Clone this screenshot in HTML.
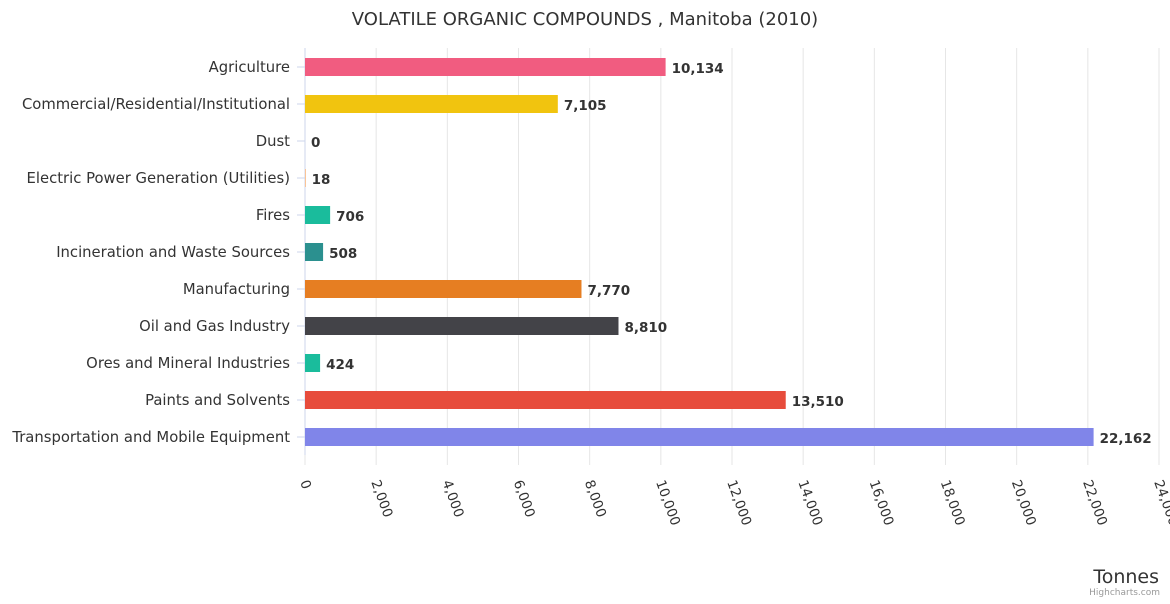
<!DOCTYPE html>
<html><head><meta charset="utf-8"><style>
body{margin:0;background:#fff;width:1170px;height:600px;overflow:hidden;font-family:"DejaVu Sans","Liberation Sans",sans-serif}
</style></head><body>
<svg id="chart" width="1170" height="600" xmlns="http://www.w3.org/2000/svg" font-family="DejaVu Sans, Liberation Sans, sans-serif">
<text x="585" y="25" text-anchor="middle" font-size="18" fill="#333">VOLATILE ORGANIC COMPOUNDS , Manitoba (2010)</text>
<g id="grid"></g><g id="bars"></g><g id="ylab"></g><g id="xlab"></g>
<text x="1159" y="583" text-anchor="end" font-size="19" fill="#333">Tonnes</text>
<text x="1160" y="595" text-anchor="end" font-size="9" fill="#999">Highcharts.com</text>
</svg>
<script>
const categories=["Agriculture","Commercial/Residential/Institutional","Dust","Electric Power Generation (Utilities)","Fires","Incineration and Waste Sources","Manufacturing","Oil and Gas Industry","Ores and Mineral Industries","Paints and Solvents","Transportation and Mobile Equipment"];
const values=[10134,7105,0,18,706,508,7770,8810,424,13510,22162];
const colors=["#f15c80","#f1c40f","#90ed7d","#f7a35c","#1abc9c","#2b908f","#e67e22","#434348","#1abc9c","#e74c3c","#8085e9"];
const ticks=[0,2000,4000,6000,8000,10000,12000,14000,16000,18000,20000,22000,24000];
const NS="http://www.w3.org/2000/svg";
const plotX0=305,plotX1=1159,plotTop=48,plotBottom=455,rowStep=37,barH=18;
const xs=v=>plotX0+(v/24000)*(plotX1-plotX0);
const yc=i=>67+i*rowStep;
function mk(t,a,p){const e=document.createElementNS(NS,t);for(const k in a)e.setAttribute(k,a[k]);p.appendChild(e);return e;}
const fmt=v=>v.toLocaleString("en-US");
const G=document.getElementById("grid"),B=document.getElementById("bars"),Y=document.getElementById("ylab"),X=document.getElementById("xlab");
ticks.forEach(t=>{
 const l=mk("line",{x1:xs(t),x2:xs(t),y1:plotTop,y2:plotBottom+10,stroke:"#e6e6e6"},G);
 
 
 const tx=mk("text",{x:0,y:0,"font-size":13.5,fill:"#333",transform:`translate(${xs(t)-5},${plotBottom+27}) rotate(70)`},X);
 tx.textContent=fmt(t);
 
 
});
const ax=mk("line",{x1:plotX0,x2:plotX0,y1:plotTop,y2:plotBottom,stroke:"#ccd6eb"},G);


categories.forEach((c,i)=>{
 const y=yc(i);
 const tk=mk("line",{x1:plotX0-8,x2:plotX0,y1:y,y2:y,stroke:"#ccd6eb"},G);
 
 
 const lb=mk("text",{x:290,y:y+5,"text-anchor":"end","font-size":14.8,fill:"#333"},Y);
 lb.textContent=c;
 
 
 const r=mk("rect",{x:plotX0,y:y-barH/2,width:Math.max(0,xs(values[i])-plotX0),height:barH,fill:colors[i]},B);
 
 
 const v=mk("text",{x:xs(values[i])+6,y:y+6,"font-size":13.5,"font-weight":"bold",fill:"#333"},B);
 v.textContent=fmt(values[i]);
 
 
});
</script>
</body></html>
